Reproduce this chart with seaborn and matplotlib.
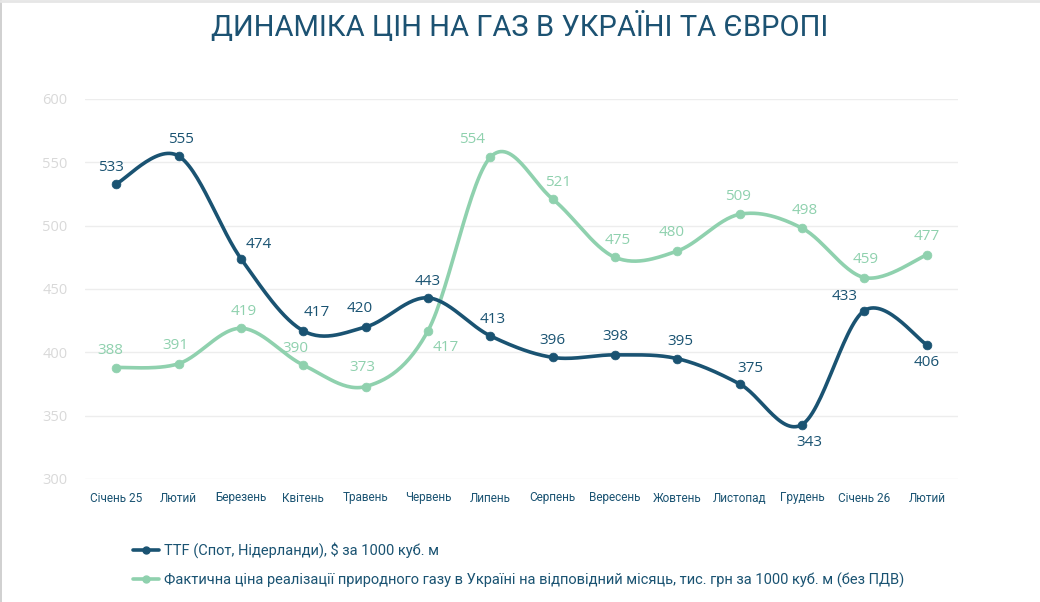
import numpy as np
import pandas as pd
import matplotlib.pyplot as plt
import seaborn as sns

months = ["Січень 25", "Лютий", "Березень", "Квітень", "Травень", "Червень", "Липень",
          "Серпень", "Вересень", "Жовтень", "Листопад", "Грудень", "Січень 26", "Лютий"]
ttf = [533, 555, 474, 417, 420, 443, 413, 396, 398, 395, 375, 343, 433, 406]
ukr = [388, 391, 419, 390, 373, 417, 554, 521, 475, 480, 509, 498, 459, 477]
ttf_name = "TTF (Спот, Нідерланди), $ за 1000 куб. м"
ukr_name = "Фактична ціна реалізації природного газу в Україні на відповідний місяць, тис. грн за 1000 куб. м (без ПДВ)"

# label offsets in points (dx, dy)
ttf_off = [(-4, 12), (2, 12), (13, 10), (10, 13), (-4, 13), (0, 12), (2, 12), (0, 12),
           (0, 13), (2, 12), (8, 11), (5, -13), (-14, 10), (0, -13)]
ukr_off = [(-4, 12), (-2, 13), (2, 12), (-6, 12), (-2, 14), (13, -12), (-13, 13), (4, 12),
           (2, 12), (-4, 13), (-1, 13), (2, 13), (1, 13), (0, 13)]

DARK = "#1A5372"
GREEN = "#8FD1AE"

sns.set_theme(style="white")
plt.rcParams["font.family"] = ["Open Sans", "DejaVu Sans"]


def smooth(y, n=30):
    # Catmull-Rom style smoothing like office chart "smoothed line"
    y = np.asarray(y, float)
    x = np.arange(len(y), dtype=float)
    P = np.column_stack([x, y])
    ext = np.vstack([P[0], P, P[-1]])
    out = []
    for i in range(len(P) - 1):
        p0, p1, p2, p3 = ext[i], ext[i + 1], ext[i + 2], ext[i + 3]
        c1 = p1 + (p2 - p0) / 6
        c2 = p2 - (p3 - p1) / 6
        t = np.linspace(0, 1, n, endpoint=False)[:, None]
        seg = (1 - t) ** 3 * p1 + 3 * (1 - t) ** 2 * t * c1 + 3 * (1 - t) * t ** 2 * c2 + t ** 3 * p2
        out.append(seg)
    out.append(P[-1][None, :])
    out = np.vstack(out)
    return out[:, 0], out[:, 1]


fig = plt.figure(figsize=(10.4, 6.02), dpi=100)
ax = fig.add_axes([85 / 1040, 1 - 479 / 602, 873 / 1040, 380 / 602])

pos = np.arange(len(months))
for vals, col, offs in [(ukr, GREEN, ukr_off), (ttf, DARK, ttf_off)]:
    sx, sy = smooth(vals)
    sns.lineplot(x=sx, y=sy, ax=ax, color=col, lw=2.6, sort=False, estimator=None)
    sns.scatterplot(x=pos, y=vals, ax=ax, color=col, s=40, edgecolor=col, zorder=5)
    for i, v in enumerate(vals):
        ax.annotate(str(v), (i, v), xytext=offs[i], textcoords="offset points",
                    ha="center", va="center", fontsize=11, color=col)

ax.set_xlim(-0.5, len(months) - 0.5)
ax.set_ylim(300, 600)
ax.set_yticks(range(300, 601, 50))
ax.set_xticks(pos)
ax.set_xticklabels(months, fontsize=8.5, color=DARK, family=["Roboto", "DejaVu Sans"])
ax.tick_params(axis="y", labelsize=10.5, labelcolor="#D9D9D9", length=0, pad=12.5)
ax.tick_params(axis="x", length=0, pad=9)
ax.grid(axis="y", color="#EDEDED", lw=1)
sns.despine(ax=ax, left=True, bottom=True)
ax.set_xlabel("")
ax.set_ylabel("")

h1 = plt.Line2D([], [], color=DARK, lw=2.6, marker="o", ms=5)
h2 = plt.Line2D([], [], color=GREEN, lw=2.6, marker="o", ms=5)
fig.legend([h1, h2], [ttf_name, ukr_name], loc="upper left", bbox_to_anchor=(120 / 1040, 1 - 529 / 602),
           frameon=False, labelcolor=DARK, handlelength=1.8, handletextpad=0.3,
           labelspacing=1.0, prop={"family": ["Roboto", "DejaVu Sans"], "size": 10.5})

fig.text(0.5, 1 - 36 / 602, "ДИНАМІКА ЦІН НА ГАЗ В УКРАЇНІ ТА ЄВРОПІ", ha="center", va="baseline",
         fontsize=21, color="#1C5272", family=["Roboto", "DejaVu Sans"])

# faint frame like the screenshot
fig.add_artist(plt.Line2D([0.001, 0.001], [0, 1], color="#C8C8C8", lw=1.2, transform=fig.transFigure))
fig.add_artist(plt.Line2D([0, 1], [0.998, 0.998], color="#E6E6E6", lw=2, transform=fig.transFigure))

fig.savefig("out.png", dpi=100)
